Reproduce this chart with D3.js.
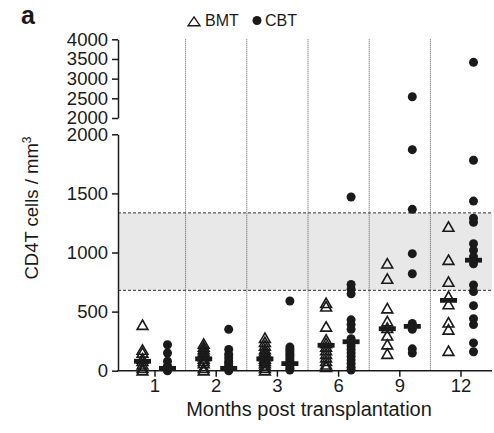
<!DOCTYPE html>
<html>
<head>
<meta charset="utf-8">
<script src="https://cdn.jsdelivr.net/npm/d3@7"></script>
<style>
  html, body { margin: 0; padding: 0; background: #fff; }
  svg { display: block; font-family: "Liberation Sans", Arial, sans-serif; }
</style>
</head>
<body>
<svg id="chart" width="494" height="433"></svg>
<script>
// Months after transplantation
const months = ["1", "2", "3", "6", "9", "12"];

// CD4+ T-cell counts (cells / mm3), bone marrow transplant recipients
const bmtValues = [
  [385, 175, 150, 100, 80, 50, 20, 0],
  [225, 200, 180, 160, 140, 120, 100, 80, 60, 20, 0],
  [275, 240, 210, 180, 160, 140, 120, 100, 80, 60, 40, 20, 0],
  [570, 540, 370, 260, 230, 200, 170, 140, 110, 80, 50, 30],
  [905, 775, 525, 415, 360, 295, 220, 140],
  [1215, 935, 750, 625, 560, 405, 345, 165]
];

// CD4+ T-cell counts (cells / mm3), cord blood transplant recipients
const cbtValues = [
  [220, 150, 80, 40, 20, 10, 5, 0],
  [350, 180, 140, 110, 80, 60, 40, 20, 10, 0],
  [590, 200, 180, 160, 140, 120, 100, 80, 60, 40, 20, 5],
  [1470, 730, 690, 650, 430, 390, 350, 270, 240, 210, 180, 150, 120, 90, 60, 30, 5],
  [2540, 1870, 1365, 990, 820, 400, 370, 350, 185, 150],
  [3415, 1780, 1435, 1290, 1255, 1075, 1020, 965, 905, 725, 670, 550, 440, 390, 235, 160]
];

// Group medians
const bmtMedians = [80, 100, 100, 215, 355, 595];
const cbtMedians = [20, 20, 60, 245, 375, 935];

// Normal reference range
const normalRange = [680, 1335];

// Tick labels for the broken y axis
const lowTicks = [0, 500, 1000, 1500, 2000];
const highTicks = [2000, 2500, 3000, 3500, 4000];

const svg = d3.select("#chart");
const ink = "#1a1a1a";
const fontSize = 18.5;

const axisX = 118, rightX = 492;
const x = d3.scaleBand().domain(months).range([124.4, 491.6]).padding(0);
const center = m => x(m) + x.bandwidth() / 2;
const offset = 12.5;

const yLow = d3.scaleLinear().domain([0, 2000]).range([370.7, 134.3]);
const yHigh = d3.scaleLinear().domain([2000, 4000]).range([118, 39.3]);
const yVal = v => v > 2000 ? yHigh(v) : yLow(v);

// Shaded normal range with dashed borders
svg.append("rect")
  .attr("x", axisX).attr("width", rightX - axisX)
  .attr("y", yLow(normalRange[1]))
  .attr("height", yLow(normalRange[0]) - yLow(normalRange[1]))
  .attr("fill", "#e8e8e8");
svg.selectAll("line.range").data(normalRange).join("line")
  .attr("class", "range")
  .attr("x1", axisX).attr("x2", rightX)
  .attr("y1", d => yLow(d)).attr("y2", d => yLow(d))
  .attr("stroke", "#333").attr("stroke-width", 1)
  .attr("stroke-dasharray", "3,2");

// Dotted separators between month groups
svg.selectAll("line.sep").data(months.slice(1)).join("line")
  .attr("class", "sep")
  .attr("x1", d => x(d)).attr("x2", d => x(d))
  .attr("y1", yHigh(4000)).attr("y2", yLow(0))
  .attr("stroke", "#555").attr("stroke-width", 1)
  .attr("stroke-dasharray", "1,1");

// Y axes (broken)
function styleAxis(g) {
  g.select(".domain").attr("stroke", ink).attr("stroke-width", 1.5);
  g.selectAll(".tick line").attr("stroke", ink).attr("stroke-width", 1.5);
  g.selectAll(".tick text").attr("fill", ink)
    .attr("font-size", fontSize).attr("font-family", "Liberation Sans, Arial, sans-serif");
}
const plain = d3.format("d");
svg.append("g").attr("transform", `translate(${axisX},0)`)
  .call(d3.axisLeft(yLow).tickValues(lowTicks).tickFormat(plain)
    .tickSize(6).tickSizeOuter(0).tickPadding(4))
  .call(styleAxis);
svg.append("g").attr("transform", `translate(${axisX},0)`)
  .call(d3.axisLeft(yHigh).tickValues(highTicks).tickFormat(plain)
    .tickSize(6).tickSizeOuter(0).tickPadding(4))
  .call(styleAxis);

// X axis
svg.append("line")
  .attr("x1", axisX - 0.75).attr("x2", rightX)
  .attr("y1", yLow(0)).attr("y2", yLow(0))
  .attr("stroke", ink).attr("stroke-width", 1.5);
const xAxis = svg.append("g").attr("transform", `translate(0,${yLow(0)})`)
  .call(d3.axisBottom(x).tickSize(6).tickSizeOuter(0).tickPadding(2.5))
  .call(styleAxis);
xAxis.select(".domain").remove();

// Symbols
const triPath = "M0,-5.2L5.4,4.2L-5.4,4.2Z";

months.forEach((m, i) => {
  const cx = center(m);
  const g = svg.append("g");
  g.selectAll("path.bmt").data(bmtValues[i]).join("path")
    .attr("class", "bmt")
    .attr("d", triPath)
    .attr("transform", d => `translate(${cx - offset},${yVal(d)})`)
    .attr("fill", "none")
    .attr("stroke", ink).attr("stroke-width", 1.6)
    .attr("stroke-linejoin", "miter");
  g.selectAll("circle.cbt").data(cbtValues[i]).join("circle")
    .attr("class", "cbt")
    .attr("cx", cx + offset).attr("cy", d => yVal(d))
    .attr("r", 4.5).attr("fill", ink);
  // median bars
  [[bmtMedians[i], cx - offset], [cbtMedians[i], cx + offset]].forEach(([v, px]) => {
    g.append("rect")
      .attr("x", px - 8.5).attr("width", 17)
      .attr("y", yVal(v) - 2.4).attr("height", 4.8)
      .attr("fill", ink);
  });
});

// Axis titles
svg.append("text")
  .attr("transform", "translate(37.5,208) rotate(-90)")
  .attr("text-anchor", "middle")
  .attr("font-size", fontSize).attr("fill", ink)
  .text("CD4T cells / mm")
  .append("tspan").attr("dy", -7).attr("font-size", 12).text("3");

svg.append("text")
  .attr("x", 309).attr("y", 416)
  .attr("text-anchor", "middle")
  .attr("font-size", 20).attr("fill", ink)
  .text("Months post transplantation");

// Panel letter
svg.append("text")
  .attr("x", 21).attr("y", 24)
  .attr("font-size", 25).attr("font-weight", "bold").attr("fill", ink)
  .text("a");

// Legend
const legend = svg.append("g");
legend.append("path").attr("d", "M0,-4.6L6,4.2L-6,4.2Z")
  .attr("transform", "translate(194,21.5)")
  .attr("fill", "none").attr("stroke", ink).attr("stroke-width", 1.4);
legend.append("text").attr("x", 205).attr("y", 26)
  .attr("font-size", 16).attr("fill", ink).text("BMT");
legend.append("circle").attr("cx", 257).attr("cy", 20.5).attr("r", 4.5).attr("fill", ink);
legend.append("text").attr("x", 265).attr("y", 26)
  .attr("font-size", 16).attr("fill", ink).text("CBT");
</script>
</body>
</html>
